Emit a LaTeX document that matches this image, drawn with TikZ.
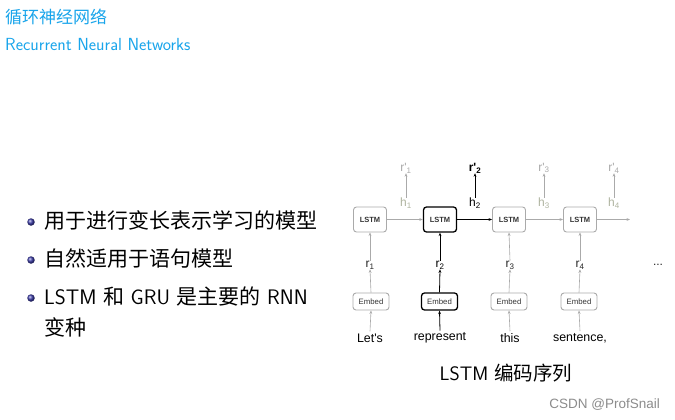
\documentclass[tikz,border=0pt]{standalone}
\usepackage{fontspec}
\setmainfont{Latin Modern Sans}
\newfontfamily\cjk{Noto Sans CJK SC}
\newfontfamily\hv{Liberation Sans}
\usetikzlibrary{arrows.meta,shapes.geometric}
\definecolor{titleblue}{RGB}{25,165,235}
\definecolor{inact}{RGB}{170,170,170}
\definecolor{hcol}{RGB}{175,180,160}
\definecolor{ballblue}{RGB}{60,60,170}
\tikzset{
  lstmbox/.style={draw=inact,line width=0.9pt,rounded corners=3pt,minimum width=33pt,minimum height=25pt,inner sep=0pt,font=\hv\fontsize{7.5}{8}\selectfont\bfseries,text=black!80},
  embbox/.style={draw=inact,line width=0.9pt,rounded corners=3pt,minimum width=36pt,minimum height=17pt,inner sep=0pt,font=\hv\fontsize{7.8}{8}\selectfont,text=black!80},
  active/.style={draw=black,line width=1.3pt},
  garrow/.style={-{Stealth[length=3.5pt,width=2.8pt]},draw=inact,line width=0.6pt},
  barrow/.style={-{Stealth[length=3.5pt,width=2.8pt]},draw=black,line width=0.8pt},
  rlab/.style={font=\hv\fontsize{12}{13}\selectfont,text=black!85,inner sep=1pt},
  hlab/.style={font=\hv\fontsize{12}{13}\selectfont,text=hcol,inner sep=1pt},
  rplab/.style={font=\hv\fontsize{12}{13}\selectfont,text=inact,inner sep=1pt},
  word/.style={font=\hv\fontsize{12.4}{14}\selectfont,text=black,inner sep=1pt},
  bul/.style={anchor=west,font=\fontsize{21}{24}\selectfont,inner sep=0pt},
  ball/.style={circle,shading=ball,ball color=ballblue,minimum size=7.5pt,inner sep=0pt}
}
\begin{document}
\begin{tikzpicture}[x=1pt,y=-1pt]
\useasboundingbox[fill=white] (0,0) rectangle (675,420);
% title
\node[anchor=west,text=titleblue,font=\cjk\fontsize{17}{19}\selectfont,inner sep=0pt] (t1) at (5,17) {循环神经网络};
\node[anchor=west,text=titleblue,font=\fontsize{17.5}{19}\selectfont,inner sep=0pt] (t2) at (5,44) {Recurrent Neural Networks};
% bullets
\node[ball] (b1) at (31,222) {};
\node[bul] (l1) at (44,220) {\cjk 用于进行变长表示学习的模型};
\node[ball] (b2) at (31,260) {};
\node[bul] (l2) at (44,258) {\cjk 自然适用于语句模型};
\node[ball] (b3) at (31,298) {};
\node[bul] (l3) at (44,296) {LSTM {\cjk 和} GRU {\cjk 是主要的} RNN};
\node[bul] (l4) at (44,327) {\cjk 变种};
% LSTM boxes
\node[lstmbox] (m1) at (370,219.5) {LSTM};
\node[lstmbox,active] (m2) at (440,219.5) {LSTM};
\node[lstmbox] (m3) at (509,219.5) {LSTM};
\node[lstmbox] (m4) at (580,219.5) {LSTM};
\coordinate (mend) at (630,219.5);
% embed boxes
\node[embbox] (e1) at (371,301.5) {Embed};
\node[embbox,active] (e2) at (439.5,301.5) {Embed};
\node[embbox] (e3) at (509,301.5) {Embed};
\node[embbox] (e4) at (579,301.5) {Embed};
% r labels
\node[rlab] (r1) at (370,265) {r\textsubscript{1}};
\node[rlab,text=black] (r2) at (440,265) {r\textsubscript{2}};
\node[rlab] (r3) at (510,265) {r\textsubscript{3}};
\node[rlab] (r4) at (580,265) {r\textsubscript{4}};
\node[rlab] (dots) at (658,265) {...};
% h labels
\node[hlab] (h1) at (406,203) {h\textsubscript{1}};
\node[rlab,text=black] (h2) at (475,203) {h\textsubscript{2}};
\node[hlab] (h3) at (544,203) {h\textsubscript{3}};
\node[hlab] (h4) at (614,203) {h\textsubscript{4}};
% r' labels
\node[rplab] (p1) at (406,168) {r'\textsubscript{1}};
\node[rplab,text=black,font=\hv\bfseries\fontsize{12}{13}\selectfont] (p2) at (475,168) {r'\textsubscript{2}};
\node[rplab] (p3) at (544,168) {r'\textsubscript{3}};
\node[rplab] (p4) at (614,168) {r'\textsubscript{4}};
% words
\node[word] (w1) at (370,338) {Let's};
\node[word] (w2) at (440,338) {represent};
\node[word] (w3) at (510,338) {this};
\node[word] (w4) at (580,338) {sentence,};
% caption
\node[font=\fontsize{19.5}{22}\selectfont,inner sep=0pt] (cap) at (506,373) {LSTM {\cjk 编码序列}};
\node[anchor=east,text=black!45,font=\hv\fontsize{13.5}{15}\selectfont,inner sep=0pt] (wm) at (660,405) {CSDN @ProfSnail};
% horizontal arrows
\draw[garrow] (m1) -- (m2);
\draw[barrow] (m2) -- (m3);
\draw[garrow] (m3) -- (m4);
\draw[garrow] (m4) -- (mend);
% vertical arrows
\foreach \i in {1,3,4}{
  \draw[garrow] (w\i.north) ++(0,-1) -- (e\i.south);
  \draw[garrow] (e\i.north) -- ([yshift=1pt]r\i.south);
  \draw[garrow] ([yshift=-1pt]r\i.north) -- (m\i.south);
  \draw[garrow] ([yshift=-1pt]h\i.north) -- ([yshift=1pt]p\i.south);
}
\draw[barrow] (w2.north) ++(0,-1) -- (e2.south);
\draw[barrow] (e2.north) -- ([yshift=1pt]r2.south);
\draw[barrow] ([yshift=-1pt]r2.north) -- (m2.south);
\draw[barrow] ([yshift=-1pt]h2.north) -- ([yshift=1pt]p2.south);
\end{tikzpicture}
\end{document}
